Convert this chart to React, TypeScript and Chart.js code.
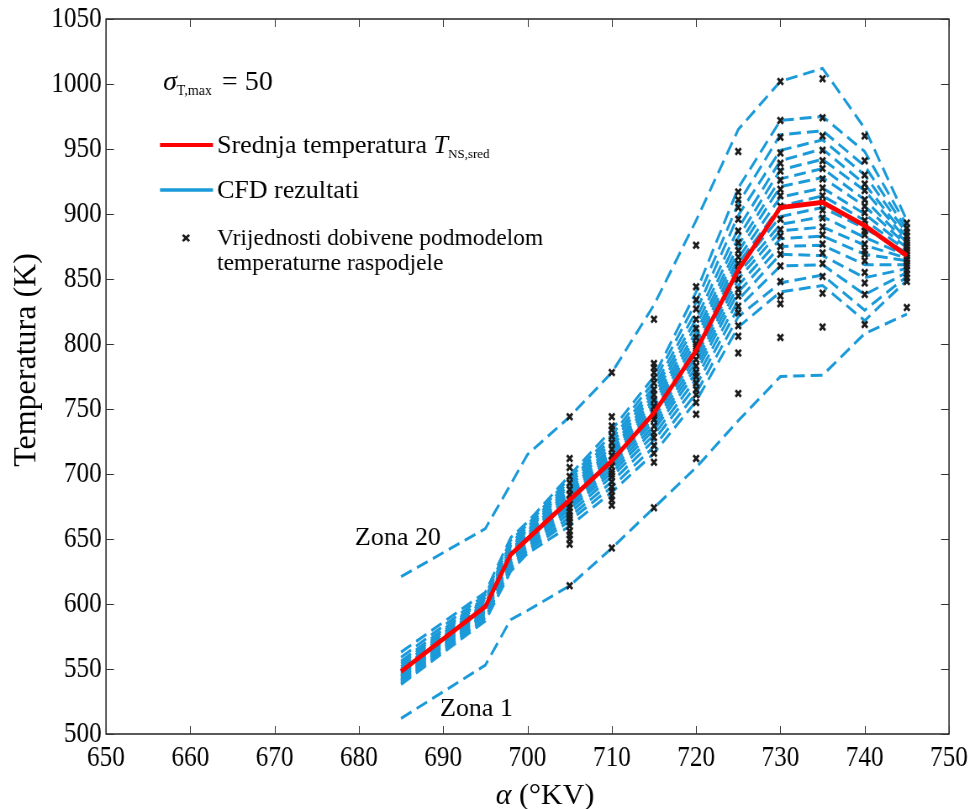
import React, { useEffect, useRef } from "react";
import { Chart, registerables } from "chart.js";

Chart.register(...registerables);

// ---------------- data ----------------
const KUTOVI = [685, 695, 698, 700, 705, 710, 715, 720, 725, 730, 735, 740, 745];

const SREDNJA_T = [548, 598, 638, 650, 680, 710, 747, 795, 857, 905, 909, 891, 868];

const ZONA_1 = [512, 553, 588, 595, 614, 643, 674, 705, 741, 775, 776, 808, 823];
const ZONA_2 = [538, 587, 625, 639, 660, 686, 716, 756, 813, 840, 845, 818, 849];
const ZONA_3 = [539, 589, 627, 641, 664, 690, 721, 762, 821, 847, 853, 826, 852];
const ZONA_4 = [540, 590, 629, 642, 667, 694, 726, 768, 828, 860, 861, 838, 855];
const ZONA_5 = [541, 592, 631, 644, 670, 698, 730, 773, 834, 869, 868, 851, 858];
const ZONA_6 = [542, 593, 633, 645, 673, 701, 734, 778, 840, 875, 876, 861, 861];
const ZONA_7 = [543, 594, 634, 647, 675, 704, 737, 782, 845, 881, 883, 869, 864];
const ZONA_8 = [544, 595, 636, 648, 677, 707, 740, 786, 850, 887, 890, 876, 866];
const ZONA_9 = [545, 596, 637, 649, 679, 709, 743, 790, 854, 892, 898, 882, 868];
const ZONA_10 = [546, 597, 638, 650, 681, 711, 746, 793, 858, 898, 905, 889, 870];
const ZONA_11 = [547, 598, 639, 651, 683, 713, 749, 797, 862, 906, 914, 895, 872];
const ZONA_12 = [548, 599, 640, 652, 685, 715, 752, 801, 866, 913, 920, 900, 874];
const ZONA_13 = [549, 600, 641, 653, 687, 717, 755, 805, 871, 921, 928, 906, 876];
const ZONA_14 = [550, 601, 642, 654, 689, 719, 758, 809, 876, 927, 935, 911, 878];
const ZONA_15 = [552, 603, 644, 656, 691, 721, 761, 814, 882, 934, 942, 918, 880];
const ZONA_16 = [554, 604, 645, 657, 693, 724, 764, 819, 889, 941, 950, 923, 882];
const ZONA_17 = [556, 605, 647, 659, 695, 727, 767, 825, 899, 949, 957, 930, 885];
const ZONA_18 = [559, 607, 649, 661, 697, 730, 771, 832, 908, 961, 964, 937, 888];
const ZONA_19 = [563, 609, 651, 663, 699, 734, 775, 840, 920, 972, 975, 948, 891];
const ZONA_20 = [621, 658, 692, 715, 744, 778, 830, 895, 965, 1002, 1012, 966, 895];

const ZONE = [
  ZONA_1, ZONA_2, ZONA_3, ZONA_4, ZONA_5, ZONA_6, ZONA_7, ZONA_8, ZONA_9, ZONA_10,
  ZONA_11, ZONA_12, ZONA_13, ZONA_14, ZONA_15, ZONA_16, ZONA_17, ZONA_18, ZONA_19, ZONA_20,
];

const KUTOVI_PODMODEL = [705, 710, 715, 720, 725, 730, 735, 740, 745];
const PODMODEL_705 = [614, 646, 650, 653, 656, 660, 663, 666, 668, 671, 674, 677, 680, 684, 688, 693, 698, 705, 712, 744];
const PODMODEL_710 = [643, 676, 680, 683, 687, 690, 694, 698, 700, 702, 706, 710, 714, 719, 724, 729, 734, 737, 744, 778];
const PODMODEL_715 = [674, 709, 716, 722, 728, 732, 737, 742, 745, 747, 752, 757, 761, 765, 770, 774, 778, 782, 785, 819];
const PODMODEL_720 = [712, 746, 755, 761, 765, 770, 775, 778, 783, 788, 793, 798, 800, 805, 812, 819, 827, 834, 844, 876];
const PODMODEL_725 = [762, 793, 806, 814, 824, 829, 837, 842, 850, 857, 862, 867, 872, 878, 887, 896, 905, 911, 917, 948];
const PODMODEL_730 = [805, 831, 837, 848, 860, 869, 875, 883, 888, 896, 906, 914, 919, 926, 933, 939, 947, 959, 972, 1002];
const PODMODEL_735 = [813, 839, 852, 862, 870, 877, 884, 890, 897, 903, 909, 914, 920, 927, 935, 941, 949, 960, 974, 1004];
const PODMODEL_740 = [815, 838, 847, 855, 864, 869, 872, 877, 884, 887, 890, 895, 901, 906, 911, 918, 923, 930, 941, 960];
const PODMODEL_745 = [828, 848, 851, 854, 857, 860, 862, 864, 866, 868, 870, 872, 874, 876, 878, 880, 883, 886, 889, 893];
const PODMODEL = [
  PODMODEL_705, PODMODEL_710, PODMODEL_715, PODMODEL_720, PODMODEL_725,
  PODMODEL_730, PODMODEL_735, PODMODEL_740, PODMODEL_745,
];

const X_MIN = 650;
const X_MAX = 750;
const X_STEP = 10;
const Y_MIN = 500;
const Y_MAX = 1050;
const Y_STEP = 50;

// ---------------- styling ----------------
const CANVAS_W = 1160; // drawn wide, shown at 975px (tick digits condensed like the reference)
const CANVAS_H = 809;
const SX = 975 / CANVAS_W;
const px = (pageX: number) => pageX / SX;

const FONT = '"Liberation Serif", "Times New Roman", serif';
const BLUE = "#1a9ad9";
const RED = "#ff0000";
const MARK = "#1c1c1c";

type Run = { t: string; font: string; dy?: number };

// draws text at a page position with undistorted proportions
function textAt(
  ctx: CanvasRenderingContext2D,
  pageX: number,
  y: number,
  runs: Run[],
  align: "left" | "center" = "left",
  rotate = false,
) {
  ctx.save();
  ctx.translate(px(pageX), y);
  ctx.scale(1 / SX, 1);
  if (rotate) ctx.rotate(-Math.PI / 2);
  let total = 0;
  for (const r of runs) {
    ctx.font = r.font;
    total += ctx.measureText(r.t).width;
  }
  let cx = align === "center" ? -total / 2 : 0;
  ctx.textAlign = "left";
  for (const r of runs) {
    ctx.font = r.font;
    ctx.fillText(r.t, cx, r.dy || 0);
    cx += ctx.measureText(r.t).width;
  }
  ctx.restore();
}

const decorPlugin = {
  id: "decor",
  afterDraw(chart: any) {
    const { ctx, chartArea: a, scales } = chart;
    const xs = scales.x;
    const ys = scales.y;
    ctx.save();

    // axes box
    ctx.strokeStyle = "#000";
    ctx.lineWidth = 1.3;
    ctx.strokeRect(a.left, a.top, a.right - a.left, a.bottom - a.top);

    // inward tick marks
    ctx.strokeStyle = "#333";
    ctx.lineWidth = 1;
    ctx.beginPath();
    for (const t of xs.ticks) {
      const x = Math.round(xs.getPixelForValue(t.value)) + 0.5;
      ctx.moveTo(x, a.bottom);
      ctx.lineTo(x, a.bottom - 8);
      ctx.moveTo(x, a.top);
      ctx.lineTo(x, a.top + 8);
    }
    for (const t of ys.ticks) {
      const y = Math.round(ys.getPixelForValue(t.value)) + 0.5;
      ctx.moveTo(a.left, y);
      ctx.lineTo(a.left + 9.5, y);
      ctx.moveTo(a.right, y);
      ctx.lineTo(a.right - 9.5, y);
    }
    ctx.stroke();

    ctx.fillStyle = "#000";
    ctx.textBaseline = "alphabetic";

    // sigma annotation
    textAt(ctx, 163, 90, [
      { t: "σ", font: `italic 28px ${FONT}` },
      { t: "T,max", font: `14px ${FONT}`, dy: 5 },
    ]);
    textAt(ctx, 222, 90, [{ t: "= 50", font: `28px ${FONT}` }]);

    // legend: mean temperature
    ctx.strokeStyle = RED;
    ctx.lineWidth = 4;
    ctx.beginPath();
    ctx.moveTo(px(160), 145);
    ctx.lineTo(px(213), 145);
    ctx.stroke();
    textAt(ctx, 217, 153, [
      { t: "Srednja temperatura ", font: `26px ${FONT}` },
      { t: "T", font: `italic 26px ${FONT}` },
      { t: "NS,sred", font: `13px ${FONT}`, dy: 5 },
    ]);

    // legend: CFD
    ctx.strokeStyle = BLUE;
    ctx.lineWidth = 3.5;
    ctx.beginPath();
    ctx.moveTo(px(160), 190);
    ctx.lineTo(px(213), 190);
    ctx.stroke();
    textAt(ctx, 217, 198, [{ t: "CFD rezultati", font: `26px ${FONT}` }]);

    // legend: submodel values
    ctx.save();
    ctx.translate(px(186), 238);
    ctx.scale(1 / SX, 1);
    ctx.strokeStyle = MARK;
    ctx.lineWidth = 2.4;
    ctx.beginPath();
    ctx.moveTo(-3.2, -3.2);
    ctx.lineTo(3.2, 3.2);
    ctx.moveTo(-3.2, 3.2);
    ctx.lineTo(3.2, -3.2);
    ctx.stroke();
    ctx.restore();
    textAt(ctx, 217, 245, [{ t: "Vrijednosti dobivene podmodelom", font: `23.5px ${FONT}` }]);
    textAt(ctx, 217, 270, [{ t: "temperaturne raspodjele", font: `23.5px ${FONT}` }]);

    // zone labels
    textAt(ctx, 355, 545, [{ t: "Zona 20", font: `26px ${FONT}` }]);
    textAt(ctx, 440, 716, [{ t: "Zona 1", font: `26px ${FONT}` }]);

    // axis titles
    textAt(ctx, 545, 804, [
      { t: "α", font: `italic 30px ${FONT}` },
      { t: " (°KV)", font: `30px ${FONT}` },
    ], "center");

    ctx.textBaseline = "middle";
    textAt(ctx, 27, 360, [{ t: "Temperatura (K)", font: `32px ${FONT}` }], "center", true);

    ctx.restore();
  },
};

export default function App() {
  const ref = useRef<HTMLCanvasElement | null>(null);

  useEffect(() => {
    const canvas = ref.current;
    if (!canvas) return;

    const datasets: any[] = [];

    datasets.push({
      label: "Srednja temperatura",
      data: KUTOVI.map((x, i) => ({ x, y: SREDNJA_T[i] })),
      borderColor: RED,
      borderWidth: 4.8,
      pointRadius: 0,
      fill: false,
      order: 0,
    });

    const pts: { x: number; y: number }[] = [];
    PODMODEL.forEach((col, k) => {
      col.forEach((v) => pts.push({ x: KUTOVI_PODMODEL[k], y: v }));
    });
    datasets.push({
      label: "Vrijednosti dobivene podmodelom",
      data: pts,
      showLine: false,
      pointStyle: "crossRot",
      pointRadius: 4.6,
      borderColor: MARK,
      backgroundColor: MARK,
      borderWidth: 2.8,
      order: 1,
    });

    ZONE.forEach((z, i) => {
      datasets.push({
        label: `Zona ${i + 1}`,
        data: KUTOVI.map((x, j) => ({ x, y: z[j] })),
        borderColor: BLUE,
        borderWidth: 3,
        borderDash: [14, 7],
        pointRadius: 0,
        fill: false,
        order: 2,
      });
    });

    const tickFont = { family: FONT, size: 30 };

    const chart = new Chart(canvas, {
      type: "line",
      data: { datasets },
      options: {
        responsive: false,
        animation: false,
        devicePixelRatio: 1,
        layout: { padding: { left: 0, right: CANVAS_W - px(949), top: 19, bottom: 0 } },
        plugins: {
          legend: { display: false },
          tooltip: { enabled: false },
          title: { display: false },
        },
        elements: { line: { tension: 0 } },
        scales: {
          x: {
            type: "linear",
            min: X_MIN,
            max: X_MAX,
            ticks: {
              stepSize: X_STEP,
              font: tickFont,
              color: "#000",
              padding: -2,
              maxRotation: 0,
              autoSkip: false,
              callback: (v: any) => String(v),
            },
            grid: { display: false },
            border: { display: false },
            afterFit: (s: any) => {
              s.height = 75;
            },
          },
          y: {
            type: "linear",
            min: Y_MIN,
            max: Y_MAX,
            ticks: {
              stepSize: Y_STEP,
              font: tickFont,
              color: "#000",
              padding: -3,
              autoSkip: false,
              callback: (v: any) => String(v),
            },
            grid: { display: false },
            border: { display: false },
            afterFit: (s: any) => {
              s.width = px(106);
            },
          },
        },
      } as any,
      plugins: [decorPlugin],
    });

    return () => chart.destroy();
  }, []);

  return (
    <div style={{ position: "absolute", left: 0, top: 0, width: 975, height: 809, background: "#fff" }}>
      <canvas
        ref={ref}
        width={CANVAS_W}
        height={CANVAS_H}
        style={{ width: "975px", height: "809px", display: "block" }}
      />
    </div>
  );
}
